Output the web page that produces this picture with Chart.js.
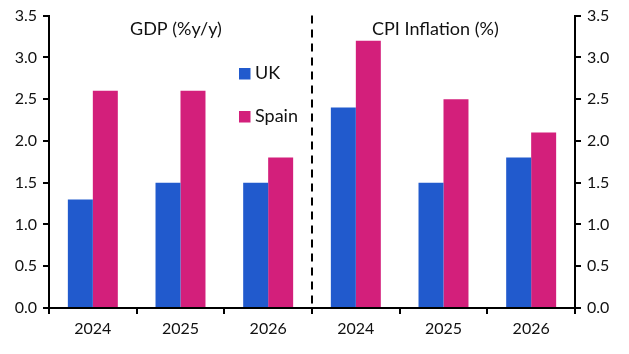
<!DOCTYPE html>
<html>
<head>
<meta charset="utf-8">
<script src="https://cdn.jsdelivr.net/npm/chart.js@4.4.0/dist/chart.umd.min.js"></script>
<style>
html,body{margin:0;padding:0;background:#fff;}
#wrap{width:629px;height:354px;position:relative;}
</style>
</head>
<body>
<div id="wrap"><canvas id="c" width="629" height="354"></canvas></div>
<script>
const categories = ['2024','2025','2026','2024','2025','2026'];
const ukValues = [1.3, 1.5, 1.5, 2.4, 1.5, 1.8];
const spainValues = [2.6, 2.6, 1.8, 3.2, 2.5, 2.1];
const seriesNames = ['UK', 'Spain'];
const panelTitles = ['GDP (%y/y)', 'CPI Inflation (%)'];
const yTicks = [0, 0.5, 1, 1.5, 2, 2.5, 3, 3.5];

const BLUE = '#215ACD';
const MAGENTA = '#D31F7B';
const FONT = 'Lato, "Open Sans", sans-serif';
const TXT = '#111';

const overlay = {
  id: 'overlay',
  afterDatasetsDraw(chart) {
    const ctx = chart.ctx;
    const x = chart.scales.x;
    const area = chart.chartArea;
    ctx.save();
    // dashed divider
    const xd = x.getPixelForValue(2.5);
    ctx.strokeStyle = '#000';
    ctx.lineWidth = 2;
    ctx.setLineDash([8, 6]);
    ctx.beginPath();
    ctx.moveTo(xd, area.top);
    ctx.lineTo(xd, area.bottom);
    ctx.stroke();
    ctx.setLineDash([]);
    // panel titles
    ctx.fillStyle = TXT;
    ctx.font = '18px ' + FONT;
    ctx.textBaseline = 'middle';
    ctx.textAlign = 'left';
    ctx.fillText(panelTitles[0], 130, 29);
    ctx.fillText(panelTitles[1], 372, 29);
    // legend
    const colors = [BLUE, MAGENTA];
    const ys = [73.5, 116.5];
    for (let i = 0; i < 2; i++) {
      ctx.fillStyle = colors[i];
      ctx.fillRect(239, ys[i] - 5.5, 11.5, 11.5);
      ctx.fillStyle = TXT;
      ctx.font = '18px ' + FONT;
      ctx.fillText(seriesNames[i], 255, ys[i]);
    }
    ctx.restore();
  }
};

new Chart(document.getElementById('c'), {
  type: 'bar',
  data: {
    labels: categories,
    datasets: [
      { label: seriesNames[0], data: ukValues, backgroundColor: BLUE, yAxisID: 'y' },
      { label: seriesNames[1], data: spainValues, backgroundColor: MAGENTA, yAxisID: 'y' }
    ]
  },
  options: {
    responsive: false,
    animation: false,
    devicePixelRatio: 1,
    layout: { padding: { top: 15, left: 0, right: 0, bottom: 0 } },
    datasets: { bar: { barPercentage: 1, categoryPercentage: 0.57 } },
    plugins: { legend: { display: false }, tooltip: { enabled: false } },
    scales: {
      x: {
        grid: { display: true, drawOnChartArea: false, drawTicks: true, tickLength: 6, color: '#000', lineWidth: 2, offset: true },
        border: { display: true, color: '#000', width: 2 },
        ticks: { color: TXT, font: { family: FONT, size: 16 }, padding: 5, maxRotation: 0 },
        afterFit(s) { s.height = 46; }
      },
      y: {
        position: 'left',
        min: 0, max: 3.5,
        afterBuildTicks(s) { s.ticks = yTicks.map(v => ({ value: v })); },
        grid: { display: true, drawOnChartArea: false, drawTicks: true, tickLength: 6, color: '#000', lineWidth: 2 },
        border: { display: true, color: '#000', width: 2 },
        ticks: { color: TXT, font: { family: FONT, size: 16 }, padding: 6, callback: v => v.toFixed(1) },
        afterFit(s) { s.width = 49; }
      },
      y2: {
        position: 'right',
        min: 0, max: 3.5,
        afterBuildTicks(s) { s.ticks = yTicks.map(v => ({ value: v })); },
        grid: { display: true, drawOnChartArea: false, drawTicks: true, tickLength: 6, color: '#000', lineWidth: 2 },
        border: { display: true, color: '#000', width: 2 },
        ticks: { color: TXT, font: { family: FONT, size: 16 }, padding: 6, callback: v => v.toFixed(1) },
        afterFit(s) { s.width = 54; }
      }
    }
  },
  plugins: [overlay]
});
</script>
</body>
</html>
